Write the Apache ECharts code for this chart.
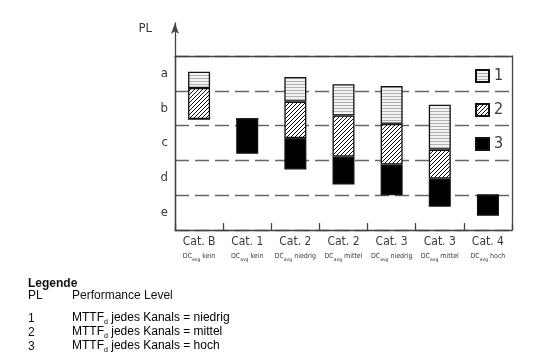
<!DOCTYPE html>
<html>
<head>
<meta charset="utf-8">
<script src="https://cdn.jsdelivr.net/npm/echarts@6/dist/echarts.min.js"></script>
<style>
html,body{margin:0;padding:0;background:#fff;}
#chart{width:560px;height:358px;}
</style>
</head>
<body>
<div id="chart"></div>
<script>
// ---- data ----
var categories = ['Cat. B', 'Cat. 1', 'Cat. 2', 'Cat. 2', 'Cat. 3', 'Cat. 3', 'Cat. 4'];
var dcAvg = ['kein', 'kein', 'niedrig', 'mittel', 'niedrig', 'mittel', 'hoch'];
var plLabels = ['e', 'd', 'c', 'b', 'a'];          // bottom to top
var legendNames = ['1', '2', '3'];
// segment ranges [low, high] on the PL scale (0 = bottom of e, 5 = top of a); null = not present
var mttfHoch    = [null, [2.19, 3.19], [1.74, 2.64], [1.31, 2.11], [1.00, 1.88], [0.67, 1.48], [0.41, 1.00]];
var mttfMittel  = [[3.19, 4.08], null, [2.64, 3.69], [2.11, 3.29], [1.88, 3.05], [1.48, 2.31], null];
var mttfNiedrig = [[4.08, 4.55], null, [3.69, 4.40], [3.29, 4.19], [3.05, 4.14], [2.31, 3.60], null];
var legendRows = [
  ['PL', 'Performance Level'],
  ['1', 'niedrig'],
  ['2', 'mittel'],
  ['3', 'hoch']
];

// ---- derived stacked values ----
function bottomOf(i) {
  var segs = [mttfHoch[i], mttfMittel[i], mttfNiedrig[i]].filter(function (s) { return s; });
  return Math.min.apply(null, segs.map(function (s) { return s[0]; }));
}
function heights(arr) { return arr.map(function (s) { return s ? +(s[1] - s[0]).toFixed(3) : 0; }); }
var baseVals = categories.map(function (c, i) { return bottomOf(i); });
var catKeys = categories.map(function (c, i) { return c + '|' + dcAvg[i] + '|' + i; });

// ---- patterns ----
function linePattern() {
  var c = document.createElement('canvas'); c.width = 4; c.height = 3;
  var g = c.getContext('2d');
  g.fillStyle = '#f3f3f3'; g.fillRect(0, 0, 4, 3);
  g.fillStyle = '#b0b0b0'; g.fillRect(0, 0, 4, 1);
  return c;
}
function hatchPattern() {
  var s = 4;
  var c = document.createElement('canvas'); c.width = s; c.height = s;
  var g = c.getContext('2d');
  g.fillStyle = '#ffffff'; g.fillRect(0, 0, s, s);
  g.strokeStyle = '#111'; g.lineWidth = 1;
  g.beginPath();
  g.moveTo(0, s); g.lineTo(s, 0);
  g.moveTo(-1, 1); g.lineTo(1, -1);
  g.moveTo(s - 1, s + 1); g.lineTo(s + 1, s - 1);
  g.stroke();
  return c;
}
var pat1 = { image: linePattern(), repeat: 'repeat' };
var pat2 = { image: hatchPattern(), repeat: 'repeat' };

var txtColor = '#3a3a3a';
var lineColor = '#444';
var chartFont = 'DejaVu Sans Condensed';

var chart = echarts.init(document.getElementById('chart'), null, { renderer: 'canvas' });

function segSeries(name, data, color) {
  return {
    name: name, type: 'bar', stack: 'pl', xAxisIndex: 0, yAxisIndex: 0,
    barWidth: 22, data: heights(data),
    itemStyle: { color: color, borderColor: '#111', borderWidth: 1.3 },
    emphasis: { disabled: true }, silent: true, animation: false
  };
}

var bottomLegend = [];
bottomLegend.push({
  type: 'text', left: 28, top: 278,
  style: { text: 'Legende', font: 'bold 12px "Liberation Sans"', fill: '#111' }
});
legendRows.forEach(function (r, k) {
  var y = k === 0 ? 290 : 313 + (k - 1) * 14;
  bottomLegend.push({
    type: 'text', left: 28, top: y,
    style: { text: r[0], font: '12px "Liberation Sans"', fill: '#111' }
  });
  if (k === 0) {
    bottomLegend.push({
      type: 'text', left: 72, top: y,
      style: { text: r[1], font: '12px "Liberation Sans"', fill: '#111' }
    });
  } else {
    bottomLegend.push({
      type: 'text', left: 72, top: y - 1,
      style: {
        text: '{n|MTTF}{d|d}{n| jedes Kanals = ' + r[1] + '}',
        rich: {
          n: { fontFamily: 'Liberation Sans', fontSize: 12, color: '#111', lineHeight: 16 },
          d: { fontFamily: 'Liberation Sans', fontSize: 7, color: '#111', lineHeight: 16, verticalAlign: 'bottom' }
        }
      }
    });
  }
});

var option = {
  backgroundColor: '#fff',
  animation: false,
  textStyle: { fontFamily: chartFont },
  grid: [
    { left: 175, right: 48, top: 56, bottom: 128 },
    { left: 175, right: 48, top: 23, bottom: 128 }
  ],
  legend: {
    data: legendNames,
    orient: 'vertical', left: 470, top: 63,
    itemWidth: 13, itemHeight: 12, itemGap: 18,
    icon: 'rect',
    textStyle: { fontFamily: chartFont, fontSize: 16, color: txtColor },
    selectedMode: false
  },
  xAxis: [
    {
      type: 'category', gridIndex: 0, data: catKeys, position: 'bottom',
      axisLine: { onZero: false, lineStyle: { color: lineColor, width: 1.3 } },
      axisTick: { show: true, inside: true, length: 7, interval: 0, lineStyle: { color: lineColor, width: 1.3 } },
      axisLabel: {
        interval: 0, margin: 4, color: txtColor,
        formatter: function (v) {
          var p = v.split('|');
          return '{c|' + p[0] + '}\n{s|DC}{sub|avg}{s| ' + p[1] + '}';
        },
        rich: {
          c: { fontFamily: chartFont, fontSize: 12, color: txtColor, lineHeight: 16 },
          s: { fontFamily: chartFont, fontSize: 7, color: txtColor, lineHeight: 12 },
          sub: { fontFamily: chartFont, fontSize: 5, color: txtColor, lineHeight: 12, verticalAlign: 'bottom' }
        }
      },
      splitLine: { show: false }
    },
    {
      type: 'category', gridIndex: 0, data: catKeys, position: 'top',
      axisLine: { onZero: false, lineStyle: { color: lineColor, width: 1.3 } },
      axisTick: { show: false }, axisLabel: { show: false }, splitLine: { show: false }
    },
    { type: 'value', gridIndex: 1, show: false }
  ],
  yAxis: [
    {
      type: 'value', gridIndex: 0, min: 0, max: 5, interval: 1, position: 'left',
      axisLine: { show: true, onZero: false, lineStyle: { color: lineColor, width: 1.3 } },
      axisTick: { show: false }, axisLabel: { show: false },
      splitLine: { show: true, lineStyle: { color: '#666', width: 1.3, type: [14, 6] } }
    },
    {
      type: 'category', gridIndex: 0, data: plLabels, position: 'left',
      axisLine: { show: false }, axisTick: { show: false },
      axisLabel: { margin: 7, color: txtColor, fontFamily: chartFont, fontSize: 13 },
      splitLine: { show: false }
    },
    {
      type: 'value', gridIndex: 0, min: 0, max: 5, position: 'right',
      axisLine: { show: true, onZero: false, lineStyle: { color: lineColor, width: 1.3 } },
      axisTick: { show: false }, axisLabel: { show: false }, splitLine: { show: false }
    },
    {
      type: 'value', gridIndex: 1, min: 0, max: 1, position: 'left',
      name: 'PL', nameLocation: 'end', nameGap: -6,
      nameTextStyle: { fontFamily: chartFont, fontSize: 13, color: txtColor, align: 'right', verticalAlign: 'middle', padding: [0, 23, 0, 0] },
      axisLine: { show: true, onZero: false, symbol: ['none', 'arrow'], symbolSize: [6, 11], lineStyle: { color: lineColor, width: 1.3 } },
      axisTick: { show: false }, axisLabel: { show: false }, splitLine: { show: false }
    }
  ],
  series: [
    {
      name: 'base', type: 'bar', stack: 'pl', xAxisIndex: 0, yAxisIndex: 0, barWidth: 22,
      data: baseVals, itemStyle: { color: 'rgba(0,0,0,0)' }, silent: true, emphasis: { disabled: true }
    },
    segSeries('3', mttfHoch, '#000'),
    segSeries('2', mttfMittel, pat2),
    segSeries('1', mttfNiedrig, pat1),
    { type: 'scatter', xAxisIndex: 2, yAxisIndex: 3, data: [], silent: true }
  ],
  graphic: bottomLegend
};
chart.setOption(option);
</script>
</body>
</html>
